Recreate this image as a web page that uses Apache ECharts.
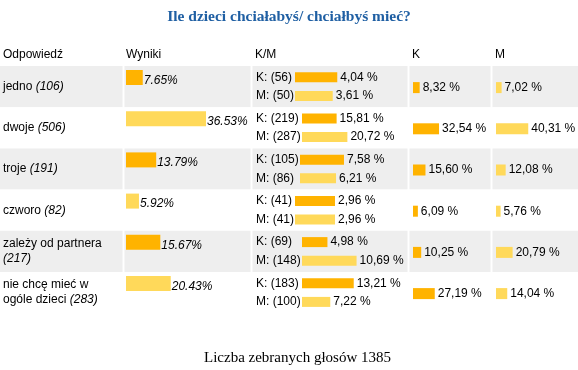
<!DOCTYPE html>
<html><head><meta charset="utf-8">
<script src="https://cdn.jsdelivr.net/npm/echarts@6/dist/echarts.min.js"></script>
<style>html,body{margin:0;padding:0;background:#fff}#c{width:578px;height:370px}</style>
</head><body><div id="c"></div>
<script>
// ---- data ----
const titleText = 'Ile dzieci chciałabyś/ chciałbyś mieć?';
const headers = ['Odpowiedź', 'Wyniki', 'K/M', 'K', 'M'];
const categories = ['jedno', 'dwoje', 'troje', 'czworo', 'zależy od partnera', 'nie chcę mieć w ogóle dzieci'];
const counts = [106, 506, 191, 82, 217, 283];
const wyniki = [7.65, 36.53, 13.79, 5.92, 15.67, 20.43];
const kCounts = [56, 219, 105, 41, 69, 183];
const mCounts = [50, 287, 86, 41, 148, 100];
const kmK = [4.04, 15.81, 7.58, 2.96, 4.98, 13.21];
const kmM = [3.61, 20.72, 6.21, 2.96, 10.69, 7.22];
const kPct = [8.32, 32.54, 15.60, 6.09, 10.25, 27.19];
const mPct = [7.02, 40.31, 12.08, 5.76, 20.79, 14.04];
const footerLabel = 'Liczba zebranych głosów';
const totalVotes = 1385;

// ---- style / layout ----
const FONT = '"Liberation Sans", Arial, Helvetica, sans-serif';
const SERIF = '"Liberation Serif", "Times New Roman", serif';
const DARK = '#ffb300', LIGHT = '#ffd95a', GRAY = '#eeeeee';
const TOP = 66, ROW = 41.2, N = categories.length, TH = ROW * N;
const COL = { name: 3, wyn: 126, km: 256, k: 413, m: 496 };
const SEPS = [123, 251, 408, 491];

const ctx = document.createElement('canvas').getContext('2d');
ctx.font = '12px ' + FONT;
const tw = s => ctx.measureText(s).width;

function wrapLabel(name, cnt, maxW) {
  const words = name.split(' ').map(w => ({ t: w, it: false }));
  words.push({ t: '(' + cnt + ')', it: true });
  const lines = []; let cur = [];
  words.forEach(w => {
    const test = cur.concat([w]).map(x => x.t).join(' ');
    if (cur.length && tw(test) > maxW) { lines.push(cur); cur = [w]; }
    else cur.push(w);
  });
  lines.push(cur);
  return lines.map(l => l.map(w => w.it ? '{i|' + w.t + '}' : w.t).join(' ')).join('\n');
}
const pc = v => v.toFixed(2).replace('.', ',') + ' %';

const grid = [], xAxis = [], yAxis = [], series = [];
function addGrid(g, xa, ya) {
  const gi = grid.length;
  grid.push(Object.assign({ containLabel: false }, g));
  xAxis.push(Object.assign({ gridIndex: gi, type: 'value', show: false }, xa));
  yAxis.push(Object.assign({ gridIndex: gi, type: 'category', inverse: true,
    axisLine: { show: false }, axisTick: { show: false }, splitLine: { show: false } }, ya));
  return gi;
}

// background table + row labels
addGrid({ left: 0, width: 578, top: TOP, height: TH }, { min: 0, max: 1 }, {
  data: categories,
  splitArea: { show: true, areaStyle: { color: [GRAY, '#ffffff'] } },
  axisLabel: {
    inside: true, margin: COL.name, fontFamily: FONT, fontSize: 12, color: '#000', lineHeight: 15,
    formatter: (v, i) => wrapLabel(v, counts[i], 116),
    rich: { i: { fontStyle: 'italic', fontFamily: FONT, fontSize: 12, color: '#000', lineHeight: 15 } }
  }
});

// Wyniki
const gW = addGrid({ left: COL.wyn, width: 80, top: TOP - 9.1, height: TH },
  { min: 0, max: Math.max(...wyniki) }, { data: categories, axisLabel: { show: false } });
series.push({
  type: 'bar', xAxisIndex: gW, yAxisIndex: gW, barWidth: 15,
  data: wyniki.map((v, i) => ({ value: v, itemStyle: { color: i % 2 ? LIGHT : DARK } })),
  label: { show: true, position: 'right', distance: 1, offset: [0, 3], fontStyle: 'italic',
    fontFamily: FONT, fontSize: 12, color: '#000', formatter: p => wyniki[p.dataIndex].toFixed(2) + '%' }
});

// K/M per row
categories.forEach((c, r) => {
  const kl = 'K: (' + kCounts[r] + ')', ml = 'M: (' + mCounts[r] + ')';
  const lw = Math.max(tw(kl), tw(ml));
  const left = Math.round(COL.km + lw + 1);
  const g = addGrid({ left: left, width: 80, top: TOP + r * ROW + 2, height: ROW - 4 },
    { min: 0, max: 1 },
    { data: [kl, ml], axisLabel: { show: true, align: 'left', margin: left - COL.km,
      fontFamily: FONT, fontSize: 12, color: '#000' } });
  const tot = kCounts[r] + mCounts[r];
  const pcts = [kmK[r], kmM[r]];
  series.push({
    type: 'bar', xAxisIndex: g, yAxisIndex: g, barWidth: 10,
    data: [{ value: kCounts[r] / tot, itemStyle: { color: DARK } },
           { value: mCounts[r] / tot, itemStyle: { color: LIGHT } }],
    label: { show: true, position: 'right', distance: 3, fontFamily: FONT, fontSize: 12,
      color: '#000', formatter: p => pc(pcts[p.dataIndex]) }
  });
});

// K and M columns
[[COL.k, kPct, DARK], [COL.m, mPct, LIGHT]].forEach(([x, arr, col]) => {
  const g = addGrid({ left: x, width: 80, top: TOP + 1, height: TH },
    { min: 0, max: 100 }, { data: categories, axisLabel: { show: false } });
  series.push({
    type: 'bar', xAxisIndex: g, yAxisIndex: g, barWidth: 11,
    data: arr.map(v => ({ value: v, itemStyle: { color: col } })),
    label: { show: true, position: 'right', distance: 3, fontFamily: FONT, fontSize: 12,
      color: '#000', formatter: p => pc(arr[p.dataIndex]) }
  });
});

const headerX = [COL.name, COL.wyn, COL.km - 1, COL.k - 1, COL.m - 1];
const graphic = headers.map((h, i) => ({
  type: 'text', x: headerX[i], y: 55, silent: true,
  style: { text: h, font: '12px ' + FONT, fill: '#000', align: 'left', verticalAlign: 'middle' }
})).concat(SEPS.map(x => ({
  type: 'line', z: 50, silent: true,
  shape: { x1: x + 0.5, y1: TOP, x2: x + 0.5, y2: TOP + TH },
  style: { stroke: '#ffffff', lineWidth: 2 }
})));

const chart = echarts.init(document.getElementById('c'), null, { renderer: 'canvas' });
chart.setOption({
  animation: false,
  title: [
    { text: titleText, left: 'center', top: 4,
      textStyle: { fontFamily: SERIF, fontWeight: 'bold', fontSize: 15.5, color: '#1f5fa3' } },
    { text: footerLabel + ' ' + totalVotes, left: 292 - 93, top: 346,
      textStyle: { fontFamily: SERIF, fontWeight: 'normal', fontSize: 15, color: '#000' } }
  ],
  grid, xAxis, yAxis, series, graphic
});
</script></body></html>
